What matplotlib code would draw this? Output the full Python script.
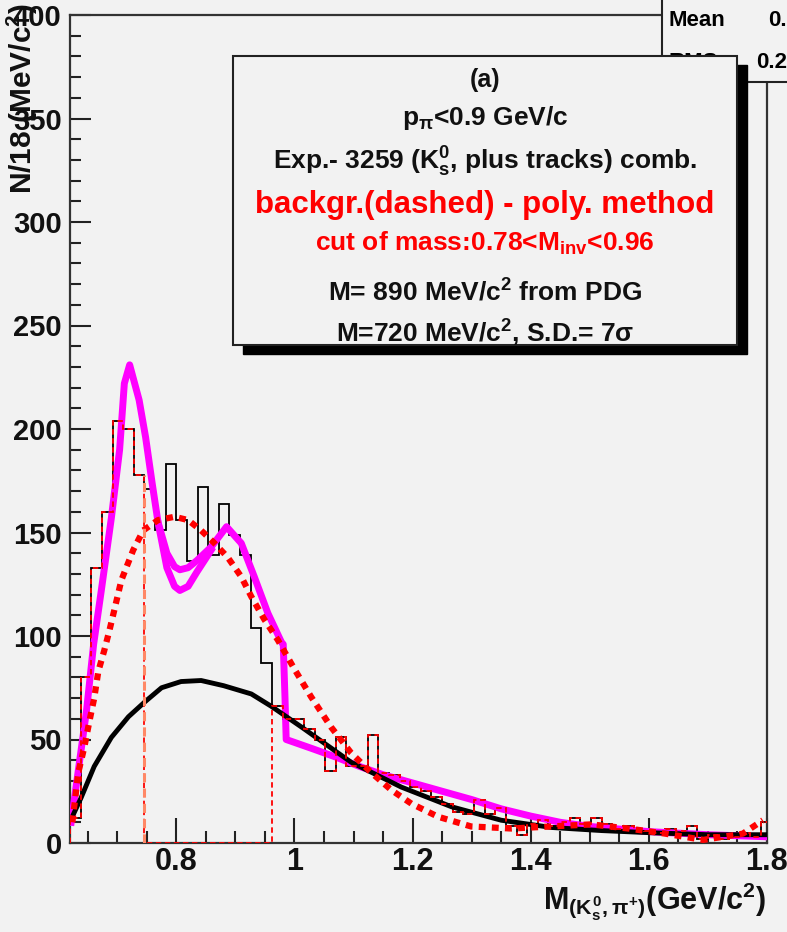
import numpy as np
import matplotlib
matplotlib.use('Agg')
import matplotlib.pyplot as plt
from matplotlib.patches import Rectangle
from matplotlib.ticker import MultipleLocator, FixedLocator

plt.rcParams['font.family'] = ['Liberation Sans', 'DejaVu Sans']
plt.rcParams['font.weight'] = 'bold'
plt.rcParams['mathtext.fontset'] = 'custom'
plt.rcParams['mathtext.rm'] = 'Liberation Sans:bold'
plt.rcParams['mathtext.it'] = 'Liberation Sans:bold'
plt.rcParams['mathtext.bf'] = 'Liberation Sans:bold'
plt.rcParams['mathtext.sf'] = 'Liberation Sans:bold'

# ---------------- data ----------------
bin_lo = 0.62
bin_width = 0.018
counts = [12, 80, 133, 160, 204, 200, 178, 171, 151, 183, 156, 136, 172, 139, 164,
          149, 139, 104, 87, 66, 60, 60, 55, 50, 35, 51, 37, 37, 52, 34, 33, 30, 27,
          25, 22, 19, 15, 14, 21, 14, 17, 8, 4, 9, 11, 8, 10, 12, 9, 12, 9, 7, 8, 7,
          6, 5, 7, 6, 8, 2, 4, 2, 3, 5, 3, 10]
cut_lo, cut_hi = 0.746, 0.962

bkg_x = [0.626, 0.639, 0.661, 0.690, 0.719, 0.746, 0.775, 0.808, 0.842, 0.880, 0.927,
         0.961, 1.012, 1.096, 1.181, 1.266, 1.350, 1.435, 1.520, 1.600, 1.700, 1.800]
bkg_y = [14, 22, 37, 51, 61, 68, 75, 78, 78.5, 76, 72, 66, 56, 39, 27, 17.5, 11, 7.5,
         6, 5, 4, 4]

poly_x = [0.624, 0.634, 0.644, 0.653, 0.661, 0.668, 0.678, 0.687, 0.695, 0.707, 0.727,
          0.744, 0.769, 0.797, 0.820, 0.842, 0.864, 0.887, 0.910, 0.927, 0.949, 0.972,
          1.000, 1.028, 1.062, 1.096, 1.130, 1.164, 1.198, 1.243, 1.299, 1.367, 1.435,
          1.502, 1.565, 1.626, 1.692, 1.759, 1.793]
poly_y = [10, 34, 46, 59, 70, 83, 93, 103, 112.5, 127, 141.5, 151, 156, 157.6, 156,
          151, 145, 138, 128.6, 119, 108, 98, 84, 70.7, 56, 43.5, 34, 25.6, 19, 12.7,
          8, 7, 8, 9, 7, 4.6, 1.5, 4.5, 11]

fit_x = [0.622, 0.648, 0.660, 0.673, 0.690, 0.704, 0.712, 0.721, 0.737, 0.748, 0.759,
         0.769, 0.784, 0.797, 0.806, 0.820, 0.835, 0.859, 0.885, 0.910, 0.932, 0.955,
         0.978, 0.981, 0.984, 0.986, 1.030, 1.070, 1.110, 1.150, 1.200, 1.250, 1.300,
         1.350, 1.400, 1.450, 1.500, 1.600, 1.700, 1.800]
fit_y = [10, 64, 96, 122, 157, 190, 222, 231, 214, 196, 174, 155, 140, 133.5, 132,
         133, 136.5, 143, 152.8, 144.8, 128.6, 111, 97, 96, 70, 50, 45.6, 41.5, 37,
         33, 29, 25, 21, 16.5, 13, 10, 8, 5.5, 4, 3]

fit2_x = [0.769, 0.784, 0.797, 0.806, 0.820, 0.835, 0.859]
fit2_y = [155, 133, 124, 122, 124, 131, 141.5]

xticks = [0.8, 1.0, 1.2, 1.4, 1.6, 1.8]
xtick_labels = ['0.8', '1', '1.2', '1.4', '1.6', '1.8']
yticks = [0, 50, 100, 150, 200, 250, 300, 350, 400]

# ---------------- figure ----------------
W, H = 787, 932
BG = '#f2f2f2'
fig = plt.figure(figsize=(W / 100, H / 100), dpi=100, facecolor=BG)


def fx(px):
    return px / W


def fy(py):
    return 1 - py / H


ax = fig.add_axes([fx(70), fy(843), fx(767) - fx(70), fy(15) - fy(843)])
ax.set_facecolor(BG)

edges = bin_lo + bin_width * np.arange(len(counts) + 1)
counts_arr = np.array(counts, dtype=float)
ax.stairs(counts_arr, edges, color='black', lw=1.3, zorder=2)

centers = 0.5 * (edges[:-1] + edges[1:])
outside = np.where((centers > cut_lo) & (centers < cut_hi), 0.0, counts_arr)
ax.stairs(outside, edges, color='red', lw=1.3, linestyle=(0, (3, 2)), zorder=6)
i_lo = np.searchsorted(edges, cut_lo) - 1
ax.vlines(cut_lo, 0, counts_arr[i_lo], color='#ff8866', lw=2.2,
          linestyles=(0, (3, 2)), zorder=6)

ax.plot(fit_x, fit_y, color='#ff00ff', lw=5, solid_joinstyle='round', zorder=3)
ax.plot(fit2_x, fit2_y, color='#ff00ff', lw=5, solid_joinstyle='round', zorder=3)
ax.plot(bkg_x, bkg_y, color='black', lw=3.5, zorder=4)
ax.plot(poly_x, poly_y, color='red', lw=4.5, linestyle=(0, (1.1, 1.0)), zorder=5)

ax.set_xlim(0.62, 1.8)
ax.set_ylim(0, 400)
ax.xaxis.set_major_locator(FixedLocator(xticks))
ax.set_xticklabels(xtick_labels)
ax.xaxis.set_minor_locator(MultipleLocator(0.05))
ax.yaxis.set_major_locator(FixedLocator(yticks))
ax.yaxis.set_minor_locator(MultipleLocator(10))

ax.tick_params(axis='x', which='major', direction='in', length=18, width=1.5,
               labelsize=22, pad=3, top=False, colors='#222222')
ax.tick_params(axis='x', which='minor', direction='in', length=9, width=1.5, top=False,
               colors='#222222')
ax.tick_params(axis='y', which='major', direction='in', length=15, width=1.5,
               labelsize=21, pad=6, right=False, colors='#222222')
ax.tick_params(axis='y', which='minor', direction='in', length=8, width=1.5,
               right=False, colors='#222222')
for lab in ax.get_xticklabels() + ax.get_yticklabels():
    lab.set_fontweight('bold')
    lab.set_color('#111111')
for s in ax.spines.values():
    s.set_linewidth(1.6)
    s.set_color('#333333')

# stats box (partially hidden)
fig.add_artist(Rectangle((fx(662), fy(82)), fx(820) - fx(662), fy(-5) - fy(82),
                         transform=fig.transFigure, facecolor=BG, edgecolor='#222222',
                         lw=1.5, zorder=5))
fig.text(fx(668), fy(20), 'Mean', fontsize=16, fontweight='bold', va='center',
         ha='left', zorder=6)
fig.text(fx(768), fy(20), '0.9163', fontsize=16, fontweight='bold', va='center',
         ha='left', zorder=6)
fig.text(fx(668), fy(62), 'RMS', fontsize=16, fontweight='bold', va='center',
         ha='left', zorder=6)
fig.text(fx(756), fy(62), '0.2287', fontsize=16, fontweight='bold', va='center',
         ha='left', zorder=6)

# text box with shadow
bx0, by0, bx1, by1 = 233, 56, 737, 345
fig.add_artist(Rectangle((fx(bx0 + 10), fy(by1 + 9)), fx(bx1) - fx(bx0),
                         fy(by0) - fy(by1), transform=fig.transFigure,
                         facecolor='black', edgecolor='black', zorder=10))
fig.add_artist(Rectangle((fx(bx0), fy(by1)), fx(bx1) - fx(bx0), fy(by0) - fy(by1),
                         transform=fig.transFigure, facecolor=BG, edgecolor='#222222',
                         lw=1.5, zorder=11))
cx = fx((bx0 + bx1) / 2)
lines = [
    ('(a)', 80, 18, '#111111'),
    (r'p$_{\pi}$<0.9 GeV/c', 118, 19, '#111111'),
    (r'Exp.- 3259 (K$^{0}_{s}$, plus tracks) comb.', 162, 19, '#111111'),
    ('backgr.(dashed) - poly. method', 205, 22.5, 'red'),
    (r'cut of mass:0.78<M$_{inv}$<0.96', 243, 19, 'red'),
    (r'M= 890 MeV/c$^{2}$ from PDG', 292, 19, '#111111'),
    (r'M=720 MeV/c$^{2}$, S.D.= 7σ', 333, 19, '#111111'),
]
for txt, py, fs, col in lines:
    fig.text(cx, fy(py), txt, ha='center', va='center', fontsize=fs, color=col,
             fontweight='bold', zorder=12)

# axis titles
fig.text(fx(22), fy(3), r'N/18 (MeV/c$^{2}$)', rotation=90, ha='center', va='top',
         fontsize=21.5, fontweight='bold', color='#111111', zorder=7)
fig.text(fx(766), fy(910), r'M$_{(K^{0}_{s},\pi^{+})}$(GeV/c$^{2}$)', ha='right',
         va='baseline', fontsize=22, fontweight='bold', color='#111111', zorder=7)

fig.savefig('out.png', dpi=100, facecolor=BG)
